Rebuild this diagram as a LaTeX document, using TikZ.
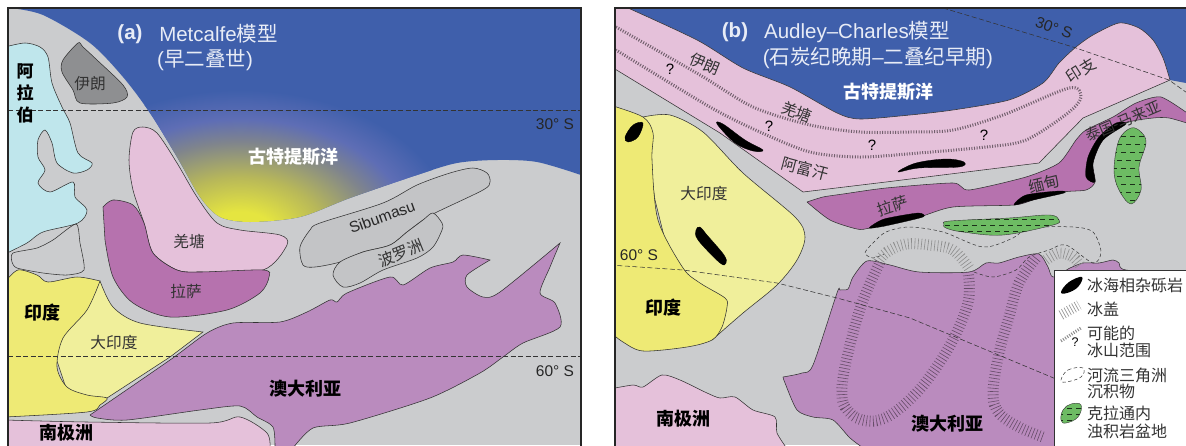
\documentclass[tikz,border=0pt]{standalone}
\usepackage{fontspec}
\setmainfont{Liberation Sans}
\newfontfamily\cjk{Noto Sans CJK SC}
\definecolor{landg}{HTML}{CBCCCE}
\definecolor{oceanb}{HTML}{3F5FAB}
\definecolor{cyanl}{HTML}{BFE6EC}
\definecolor{indiay}{HTML}{EEEA75}
\definecolor{gindia}{HTML}{F0EF9B}
\definecolor{pinkl}{HTML}{E5C1DA}
\definecolor{lhasap}{HTML}{B672AE}
\definecolor{ausp}{HTML}{BA8BBE}
\definecolor{irang}{HTML}{8E8F91}
\definecolor{sibug}{HTML}{C3C4C6}
\definecolor{greenb}{HTML}{6DBB63}
\definecolor{ink}{HTML}{333333}
\definecolor{wtext}{HTML}{E8ECF6}
\pgfdeclareradialshading{warmsea}{\pgfpoint{0bp}{0bp}}{rgb(0bp)=(0.90,0.90,0.25);rgb(4bp)=(0.90,0.90,0.25);rgb(10bp)=(0.72,0.72,0.35);rgb(16bp)=(0.50,0.52,0.55);rgb(20bp)=(0.37,0.43,0.71);rgb(25bp)=(0.247,0.373,0.671);rgb(50bp)=(0.247,0.373,0.671)}
\tikzset{
  outl/.style={draw=ink,line width=0.55pt},
  lab/.style={font=\cjk\fontsize{15.7}{17}\selectfont,text=ink,inner sep=0pt},
  labb/.style={font=\cjk\bfseries\fontsize{18}{20}\selectfont,text=black,inner sep=0pt},
  labw/.style={font=\cjk\bfseries\fontsize{18}{20}\selectfont,text=white,inner sep=0pt},
  lat/.style={draw=black!80,line width=0.55pt,dash pattern=on 5pt off 2.5pt},
  latin/.style={font=\fontsize{15.5}{17}\selectfont,text=black!85,inner sep=0pt},
  qmark/.style={font=\fontsize{15}{17}\selectfont,text=black,inner sep=0pt},
  head/.style={font=\fontsize{20.5}{22}\selectfont,text=wtext,inner sep=0pt},
  fringe/.style={draw=#1,line width=11pt,dash pattern=on 0.6pt off 2.7pt},
  qfringe/.style={draw=black!50!pinkl,line width=3pt,dash pattern=on 1pt off 1.6pt},
  till/.style={fill=black,draw=black,line width=0.3pt},
  deltal/.style={draw=ink,line width=0.5pt,dash pattern=on 3.5pt off 2.5pt},
  gdash/.style={draw=black!75!greenb,line width=0.6pt,dash pattern=on 5pt off 4pt},
  legt/.style={font=\cjk\fontsize{16}{18}\selectfont,text=ink,anchor=west,inner sep=0pt},
  frame/.style={draw=black!85,line width=1.6pt}
}
\begin{document}
\begin{tikzpicture}[x=1pt,y=-1pt]
\useasboundingbox (0,0) rectangle (1186,445);
\fill[white] (0,0) rectangle (1186,445);

% ===== panel a =====
\begin{scope}
\clip (8,8) rectangle (581,445);
\fill[landg] (8,8) rectangle (581,445);
\begin{scope}
\clip plot[smooth,tension=.5] coordinates {(10,8)(43,15)(90,43)(123,77)(150,113)(177,157)(200,197)(220,217)(250,222)(300,217)(350,198)(417,175)(457,163)(497,160)(537,162)(581,175)} -- (581,8) -- cycle;
\fill[oceanb] (0,0) rectangle (590,240);
\shade[shading=warmsea] (240,235) ellipse [x radius=215,y radius=145];
\end{scope}
% Arabia
\filldraw[fill=cyanl,outl] plot[smooth,tension=.5] coordinates {(5,47)(25,43)(40,47)(48,57)(52,83)(62,107)(70,123)(78,153)(92,163)(87,170)(73,173)(57,163)(52,143)(45,130)(38,140)(38,157)(45,170)(38,183)(50,192)(73,182)(75,197)(87,210)(78,223)(43,232)(27,243)(5,254)} -- cycle;
% gray block
\draw[outl] plot[smooth cycle,tension=.4] coordinates {(13,253)(37,248)(53,240)(76,224)(80,243)(84,270)(67,275)(43,273)(17,268)(12,262)};
% Iran
\filldraw[fill=irang,outl] plot[smooth cycle,tension=.5] coordinates {(78,43)(63,60)(62,72)(73,90)(80,103)(113,103)(127,97)(123,85)(97,60)(83,47)};
% Qiangtang
\filldraw[fill=pinkl,outl] plot[smooth cycle,tension=.5] coordinates {(143,127)(133,132)(129,160)(133,190)(144,223)(153,253)(177,270)(200,272)(263,270)(287,245)(280,235)(240,230)(217,223)(197,197)(177,163)(157,133)};
% Lhasa
\filldraw[fill=lhasap,outl] plot[smooth,tension=.5] coordinates {(103,207)(113,200)(133,205)(144,223)(153,253)(177,270)(200,272)(263,270)(269,277)(260,293)(227,310)(170,317)(133,303)(113,277)(105,240)} -- cycle;
% Sibumasu
\filldraw[fill=sibug,outl] plot[smooth cycle,tension=.5] coordinates {(473,168)(487,173)(490,182)(483,190)(437,212)(423,220)(407,232)(390,245)(363,252)(340,262)(315,267)(303,265)(300,247)(310,230)(320,223)(383,203)(417,185)(450,173)};
\filldraw[fill=sibug,outl] plot[smooth cycle,tension=.5] coordinates {(433,213)(442,223)(442,230)(433,247)(417,258)(383,270)(360,283)(343,287)(333,275)(340,262)(363,252)(390,245)(407,232)(423,220)};
% Greater India
\filldraw[fill=gindia,outl] plot[smooth,tension=.5] coordinates {(100,281)(113,307)(140,323)(203,332)} -- (170,357) -- (107,398) -- (70,400) -- (50,340) -- cycle;
% India
\filldraw[fill=indiay,outl] plot[smooth,tension=.5] coordinates {(5,282)(18,270)(37,275)(48,282)(77,277)(100,281)} -- plot[smooth,tension=.5] coordinates {(100,281)(87,310)(63,338)(57,367)(67,387)(87,395)(107,398)(100,405)(87,412)(5,417)} -- cycle;
% Antarctica
\filldraw[fill=pinkl,outl] plot[smooth,tension=.5] coordinates {(5,420)(87,422)(210,423)(240,417)(267,433)(270,450)} -- (5,450) -- cycle;
% Australia
\filldraw[fill=ausp,outl] plot[smooth,tension=.45] coordinates {(90,415)(170,360)(207,333)(233,323)(280,322)(307,312)(330,300)(337,302)(347,293)(390,277)(403,285)(430,268)(453,262)(463,255)(490,260)} -- plot[smooth,tension=.45] coordinates {(490,260)(467,275)(467,287)(483,297)(500,292)(560,243)} -- plot[smooth,tension=.45] coordinates {(560,243)(550,267)(540,293)(555,303)(560,327)(523,343)(503,357)(480,373)(430,398)(350,423)(313,428)(293,448)} -- plot[smooth,tension=.45] coordinates {(275,448)(273,427)(257,417)(240,406)(200,410)(127,420)(97,418)(90,415)};
\draw[lat] (8,110) -- (581,110);
\draw[lat] (8,356) -- (581,356);
\end{scope}
\draw[frame] (8,446) -- (8,8) -- (581,8) -- (581,446);

\node[head,font=\bfseries\fontsize{20.5}{22}\selectfont] (aTag) at (130,34) {(a)};
\node[head] (aTitle) at (218.5,34) {Metcalfe{\cjk 模型}};
\node[head] (aSub) at (205,60) {({\cjk 早二叠世})};
\node[labb,font=\cjk\bfseries\fontsize{17}{19}\selectfont] (aAr1) at (25,71) {阿};
\node[labb,font=\cjk\bfseries\fontsize{17}{19}\selectfont] (aAr2) at (25,93) {拉};
\node[labb,font=\cjk\bfseries\fontsize{17}{19}\selectfont] (aAr3) at (25,115) {伯};
\node[lab] (aIran) at (90,84) {伊朗};
\node[labw] (aTethys) at (293,157) {古特提斯洋};
\node[lab] (aQt) at (189,241) {羌塘};
\node[lab] (aLs) at (186,291) {拉萨};
\node[latin,rotate=20] (aSibu) at (382,217) {Sibumasu};
\node[lab,rotate=22] (aBl) at (401,253) {波罗洲};
\node[labb] (aIn) at (42,313) {印度};
\node[lab] (aGi) at (114,342) {大印度};
\node[labb] (aAu) at (305,389) {澳大利亚};
\node[labb] (aAn) at (66,433) {南极洲};
\node[latin] (a30) at (555,124) {30° S};
\node[latin] (a60) at (555,371) {60° S};

% ===== panel b =====
\begin{scope}
\clip (615,8) rectangle (1186,445);
\fill[landg] (615,8) rectangle (1186,445);
\fill[oceanb] (615,8) -- (1186,8) -- (1186,83) -- (1170,80) -- (1000,140) -- (860,140) -- (700,70) -- (628,8) -- cycle;
% Pink band
\filldraw[fill=pinkl,outl] (610,4) -- (625,4) -- (628,8) -- plot[smooth,tension=.45] coordinates {(628,8)(697,40)(743,68)(790,87)(837,113)(860,119)(910,115)(953,110)(1009,100)(1043,83)(1059,63)(1076,47)(1093,35)(1119,23)(1139,28)(1153,40)(1163,58)(1170,80)} -- (1083,118) -- (1039,163) -- (886,182) -- (803,192) -- (720,133) -- (610,66) -- cycle;
% Q fringes
\draw[qfringe] plot[smooth,tension=.5] coordinates {(616,27)(700,75)(753,107)(810,125)(860,132)(910,132)(953,130)(1003,115)(1069,88)(1081,97)(1068,113)(1026,140)(986,147)(919,153)(860,157)(810,152)(760,132)(710,107)(616,50)};
% Lhasa-Burma-Thai
\filldraw[fill=lhasap,outl] plot[smooth,tension=.4] coordinates {(807,202)(823,197)(843,194)(886,188)(953,183)(969,190)(1026,177)(1059,163)(1076,140)(1086,130)(1113,117)(1136,103)(1161,97)(1190,115)} -- plot[smooth,tension=.45] coordinates {(1190,124)(1169,118)(1153,118)(1126,123)(1103,140)(1093,163)(1095,182)(1086,190)(1063,192)(1033,200)(1014,205)(953,207)(919,217)(870,228)(857,229)(830,220)(807,202)};
% Greater India
\filldraw[fill=gindia,outl] plot[smooth,tension=.5] coordinates {(643,117)(670,115)(703,132)(743,173)(795,217)(805,237)(797,260)(777,285)(743,313)(712,340)} -- (680,300) -- (655,200) -- cycle;
% India
\filldraw[fill=indiay,outl] plot[smooth,tension=.5] coordinates {(610,105)(643,117)(653,133)(652,160)(658,220)(683,268)(700,283)(725,298)(727,307)(722,327)(712,340)(687,347)(643,351)(623,342)(610,332)} -- cycle;
% Antarctica
\filldraw[fill=pinkl,outl] plot[smooth,tension=.45] coordinates {(610,389)(633,385)(643,387)(662,375)(680,380)(707,393)(720,398)(735,397)(753,410)(775,417)(777,433)(788,450)} -- (610,450) -- cycle;
% Australia
\filldraw[fill=ausp,outl] plot[smooth,tension=.45] coordinates {(783,377)(802,373)(813,365)(837,293)(840,290)(848,289)(853,277)(867,261)(890,265)(919,272)(969,272)(986,263)(999,263)(1019,257)(1039,254)(1048,267)(1053,277)(1070,268)(1083,263)(1099,263)(1113,260)(1119,263)(1126,270)(1190,275)} -- (1190,450) -- (866,450) -- plot[smooth,tension=.45] coordinates {(866,450)(850,438)(833,420)(813,417)(797,410)(785,383)(783,377)};
% Delta dashed
\draw[deltal] plot[smooth,tension=.5] coordinates {(974,272)(993,277)(1016,270)(1029,257)(1049,250)(1066,245)(1093,263)(1101,252)(1093,232)(1073,227)(1029,228)(1013,238)(983,247)(943,232)(909,227)(886,232)(873,243)(865,253)(873,258)(884,254)};
% Ice fringes
\draw[fringe=black!45] plot[smooth,tension=.6] coordinates {(878,262)(887,252)(906,244)(929,245)(953,250)(969,268)};
\draw[fringe=black!45] plot[smooth,tension=.6] coordinates {(1046,260)(1059,253)(1073,257)(1081,267)};
\draw[fringe=black!45!ausp] plot[smooth,tension=.6] coordinates {(880,262)(862,303)(848,353)(842,387)(845,407)(862,420)(887,417)(919,390)(949,347)(968,303)(968,272)};
\draw[fringe=black!45!ausp] plot[smooth,tension=.6] coordinates {(1036,258)(1019,283)(1009,317)(999,353)(993,393)(999,413)(1019,427)(1043,437)};
% Tills
\fill[till] plot[smooth cycle,tension=.6] coordinates {(625,137)(633,125)(643,123)(638,137)(628,142)};
\fill[till] plot[smooth cycle,tension=.6] coordinates {(717,124)(723,124)(745,140)(763,150)(753,151)(735,143)};
\fill[till] plot[smooth cycle,tension=.6] coordinates {(898,172)(916,163)(946,159)(964,162)(959,167)(919,168)};
\fill[till] plot[smooth cycle,tension=.4] coordinates {(869,228)(884,219)(918,213)(923,217)(885,226)};
\fill[till] plot[smooth cycle,tension=.5] coordinates {(1014,205)(1026,195)(1059,191)(1064,193)(1033,200)};
\fill[till] plot[smooth cycle,tension=.5] coordinates {(1116,123)(1126,124)(1103,140)(1093,163)(1095,182)(1086,177)(1088,157)(1099,137)};
\fill[till] plot[smooth cycle,tension=.6] coordinates {(700,227)(696,230)(698,240)(720,263)(726,263)(724,255)(707,235)};
% Green basins
\filldraw[fill=greenb,draw=ink,line width=.4pt] plot[smooth cycle,tension=.6] coordinates {(1131,128)(1119,140)(1114,170)(1119,190)(1131,204)(1141,190)(1139,167)(1146,143)(1141,132)};
\filldraw[fill=greenb,draw=ink,line width=.4pt] plot[smooth cycle,tension=.6] coordinates {(944,224)(950,221)(1009,218)(1049,215)(1059,220)(1053,225)(1003,235)(963,232)(946,228)};
\begin{scope}
\clip plot[smooth cycle,tension=.6] coordinates {(1131,128)(1119,140)(1114,170)(1119,190)(1131,204)(1141,190)(1139,167)(1146,143)(1141,132)};
\foreach \yy/\xo in {136/1112,144/1117,152/1112,160/1117,168/1112,176/1117,184/1112,192/1117,200/1112}
  \draw[gdash] (\xo,\yy) -- (1150,\yy);
\end{scope}
\begin{scope}
\clip plot[smooth cycle,tension=.6] coordinates {(944,224)(950,221)(1009,218)(1049,215)(1059,220)(1053,225)(1003,235)(963,232)(946,228)};
\foreach \yy/\xo in {219/950,225/945,231/950}
  \draw[gdash] (\xo,\yy) -- (1062,\yy);
\end{scope}
% Latitudes
\draw[lat] (943,8) -- (1073,47) -- (1169,80) -- (1190,95);
\draw[lat] (610,265) -- (683,270) -- (777,283) -- (837,298) -- (910,318) -- (1056,379);
% Legend
\filldraw[fill=white,draw=ink,line width=.6pt] (1054,270) rectangle (1190,450);
\fill[black] plot[smooth cycle,tension=.7] coordinates {(1061,292)(1069,282)(1082,277)(1078,287)(1067,293)};
\draw[draw=black!40,line width=10pt,dash pattern=on .7pt off 2.2pt] (1061,315) -- (1079,305);
\draw[draw=black!45,line width=3pt,dash pattern=on 1pt off 1.5pt] (1061,341) -- (1081,328);
\draw[deltal] plot[smooth cycle,tension=.7] coordinates {(1061,380)(1068,370)(1083,368)(1081,377)(1066,382)};
\filldraw[fill=greenb,draw=ink,line width=.4pt] plot[smooth cycle,tension=.7] coordinates {(1061,420)(1063,410)(1071,404)(1081,405)(1078,417)(1066,423)};
\begin{scope}
\clip plot[smooth cycle,tension=.7] coordinates {(1061,420)(1063,410)(1071,404)(1081,405)(1078,417)(1066,423)};
\foreach \yy in {408,414,420} \draw[gdash] (1058,\yy) -- (1084,\yy);
\end{scope}
\end{scope}
\draw[frame] (615,446) -- (615,8) -- (1186,8);

\node[head,font=\bfseries\fontsize{20.5}{22}\selectfont] (bTag) at (735,32) {(b)};
\node[head] (bTitle) at (857,32) {Audley–Charles{\cjk 模型}};
\node[head] (bSub) at (878,58) {({\cjk 石炭纪晚期}–{\cjk 二叠纪早期})};
\node[labw] (bTethys) at (888,92) {古特提斯洋};
\node[lab,rotate=-22] (bIran) at (705,64) {伊朗};
\node[lab,rotate=-20] (bQt) at (797,112) {羌塘};
\node[lab,rotate=-15] (bAf) at (805,169) {阿富汗};
\node[lab,rotate=18] (bLs) at (893,206) {拉萨};
\node[lab] (bGi) at (704,193) {大印度};
\node[lab,rotate=32] (bIc) at (1081,70) {印支};
\node[lab,rotate=23,font=\cjk\fontsize{15}{17}\selectfont] (bTm) at (1123,121) {泰国-马来亚};
\node[lab,rotate=14] (bMm) at (1044,184) {缅甸};
\node[qmark] (q1) at (670,69) {?};
\node[qmark] (q2) at (769,126) {?};
\node[qmark] (q3) at (872,145) {?};
\node[qmark] (q4) at (984,135) {?};
\node[latin,rotate=-20] (b30) at (1054,28) {30° S};
\node[latin] (b60) at (639,255) {60° S};
\node[labb] (bIn) at (663,308) {印度};
\node[labb] (bAn) at (683,419) {南极洲};
\node[labb] (bAu) at (947,424) {澳大利亚};
\node[legt] (l1) at (1087,285) {冰海相杂砾岩};
\node[legt] (l2) at (1087,309) {冰盖};
\node[legt] (l3) at (1087,333) {可能的};
\node[legt] (l3b) at (1087,350) {冰山范围};
\node[qmark,font=\fontsize{12.5}{14}\selectfont] (lq) at (1075,342) {?};
\node[legt] (l4) at (1087,375) {河流三角洲};
\node[legt] (l4b) at (1087,391) {沉积物};
\node[legt] (l5) at (1087,413) {克拉通内};
\node[legt] (l5b) at (1087,431) {浊积岩盆地};
\end{tikzpicture}
\end{document}
